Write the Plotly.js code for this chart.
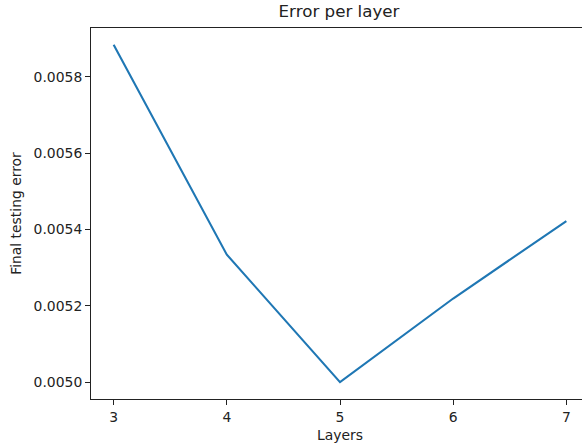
<!DOCTYPE html>
<html>
<head>
<meta charset="utf-8">
<script src="https://cdn.plot.ly/plotly-3.0.1.min.js"></script>
<style>
html, body { margin: 0; padding: 0; overflow: hidden; background: #fff; }
#chart { width: 590px; height: 448px; }
</style>
</head>
<body>
<div id="chart"></div>
<script>
const layers = [3, 4, 5, 6, 7];
const finalTestingError = [0.005884, 0.005334, 0.005000, 0.005219, 0.005422];
const xTicks = [3, 4, 5, 6, 7];
const yTicks = [0.0050, 0.0052, 0.0054, 0.0056, 0.0058];
const yTickLabels = ['0.0050', '0.0052', '0.0054', '0.0056', '0.0058'];

const font = 'DejaVu Sans, sans-serif';
const trace = {
  x: layers,
  y: finalTestingError,
  type: 'scatter',
  mode: 'lines',
  line: { color: '#1f77b4', width: 2.1 },
  hoverinfo: 'skip'
};
const layout = {
  width: 590,
  height: 448,
  margin: { l: 91, r: 1, t: 28, b: 49 },
  paper_bgcolor: '#fff',
  plot_bgcolor: '#fff',
  showlegend: false,
  font: { family: font, size: 13.9, color: '#222' },
  title: {
    text: 'Error per layer',
    font: { family: font, size: 16.7, color: '#222' },
    x: 0.498, xref: 'paper', xanchor: 'center',
    y: 1 - 11.5 / 448, yref: 'container', yanchor: 'middle'
  },
  xaxis: {
    range: [2.8, 7.2],
    tickvals: xTicks,
    ticktext: xTicks.map(String),
    showgrid: false, zeroline: false,
    showline: true, linecolor: '#222', linewidth: 1, mirror: true,
    ticks: 'outside', ticklen: 5, tickwidth: 1, tickcolor: '#222',
    tickfont: { family: font, size: 13.9, color: '#222' },
    title: { text: 'Layers', font: { family: font, size: 13.9, color: '#222' }, standoff: 6 }
  },
  yaxis: {
    range: [0.0049558, 0.0059277],
    tickvals: yTicks,
    ticktext: yTickLabels,
    showgrid: false, zeroline: false,
    showline: true, linecolor: '#222', linewidth: 1, mirror: true,
    ticks: 'outside', ticklen: 5, tickwidth: 1, tickcolor: '#222',
    tickfont: { family: font, size: 13.9, color: '#222' },
    title: { text: 'Final testing error', font: { family: font, size: 13.9, color: '#222' }, standoff: 8 }
  }
};
Plotly.newPlot('chart', [trace], layout, { displayModeBar: false, staticPlot: true });
</script>
</body>
</html>
